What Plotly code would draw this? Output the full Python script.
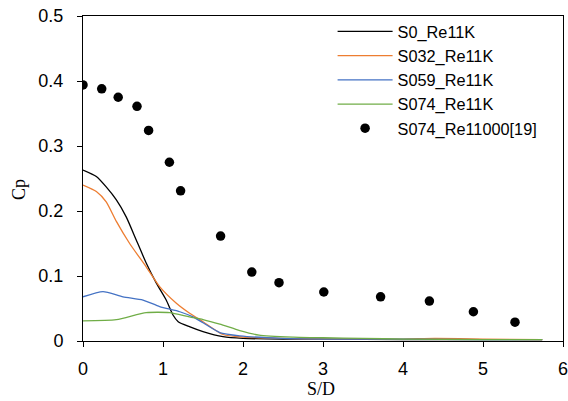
import plotly.graph_objects as go

# Simulation curves
s0_x = [0, 0.167, 0.29, 0.417, 0.54, 0.667, 0.79, 0.917, 1.04, 1.125, 1.19, 1.33, 1.5, 1.75, 2.0, 2.5, 3.0, 4.0, 5.0, 5.74]
s0_y = [0.263, 0.253, 0.237, 0.217, 0.191, 0.155, 0.120, 0.089, 0.063, 0.040, 0.0297, 0.022, 0.0144, 0.0066, 0.004, 0.003, 0.003, 0.002, 0.002, 0.002]

s032_x = [0, 0.167, 0.29, 0.417, 0.583, 0.79, 0.958, 1.167, 1.333, 1.5, 1.75, 2.0, 2.5, 3.0, 4.0, 4.4, 5.0, 5.74]
s032_y = [0.240, 0.230, 0.214, 0.184, 0.150, 0.114, 0.0836, 0.058, 0.0426, 0.0297, 0.010, 0.006, 0.004, 0.003, 0.003, 0.004, 0.003, 0.002]

s059_x = [0, 0.25, 0.5, 0.75, 0.958, 1.21, 1.375, 1.5, 1.71, 1.96, 2.5, 3.0, 4.0, 5.0, 5.74]
s059_y = [0.068, 0.076, 0.068, 0.063, 0.053, 0.045, 0.037, 0.028, 0.013, 0.008, 0.004, 0.003, 0.003, 0.002, 0.002]

s074_x = [0, 0.417, 0.79, 1.083, 1.33, 1.5, 1.71, 1.96, 2.2, 2.63, 3.0, 3.5, 4.0, 5.0, 5.74]
s074_y = [0.031, 0.0328, 0.0436, 0.0436, 0.037, 0.033, 0.026, 0.016, 0.009, 0.006, 0.005, 0.004, 0.003, 0.002, 0.002]

# Reference data [19]
ref_x = [0, 0.234, 0.44, 0.675, 0.82, 1.08, 1.22, 1.72, 2.11, 2.45, 3.01, 3.72, 4.33, 4.88, 5.40]
ref_y = [0.394, 0.388, 0.375, 0.361, 0.324, 0.275, 0.231, 0.1615, 0.106, 0.0897, 0.0754, 0.068, 0.0615, 0.045, 0.029]

names = ["S0_Re11K", "S032_Re11K", "S059_Re11K", "S074_Re11K", "S074_Re11000[19]"]
colors = ["#000000", "#ED7D31", "#4472C4", "#70AD47"]

fig = go.Figure()
for i, (xs, ys) in enumerate([(s0_x, s0_y), (s032_x, s032_y), (s059_x, s059_y), (s074_x, s074_y)]):
    fig.add_trace(go.Scatter(x=xs, y=ys, mode="lines", name=names[i],
                             line=dict(color=colors[i], width=1.3, shape="spline", smoothing=0.6)))
fig.add_trace(go.Scatter(x=ref_x, y=ref_y, mode="markers", name=names[4],
                         marker=dict(color="black", size=9.5)))

tickfont = dict(family="Liberation Sans", size=18, color="black")
serif = dict(family="Liberation Serif", size=18, color="black")
fig.update_layout(
    width=568, height=401,
    margin=dict(l=83, r=5, t=16, b=60),
    paper_bgcolor="white", plot_bgcolor="white",
    showlegend=True,
    legend=dict(x=0.52, y=1.005, xanchor="left", yanchor="top",
                font=dict(family="Liberation Sans", size=16.3, color="black"),
                bgcolor="rgba(0,0,0,0)", itemwidth=55),
    xaxis=dict(range=[0, 6], dtick=1, showgrid=False, zeroline=False, automargin=False,
               showline=True, linecolor="black", linewidth=1, mirror=True,
               ticks="outside", ticklen=5, tickcolor="black", tickfont=tickfont,
               ticklabelstandoff=6, ticklabeloverflow="allow"),
    yaxis=dict(range=[0, 0.5], dtick=0.1, showgrid=False, zeroline=False, automargin=False,
               showline=True, linecolor="black", linewidth=1, mirror=True,
               ticks="outside", ticklen=5, tickcolor="black", tickfont=tickfont,
               ticklabelstandoff=10, ticklabeloverflow="allow"),
    annotations=[
        dict(text="S/D", x=0.495, y=-0.148, xref="paper", yref="paper", showarrow=False,
             xanchor="center", yanchor="middle", font=serif),
        dict(text="Cp", x=-0.133, y=0.465, xref="paper", yref="paper", showarrow=False,
             xanchor="center", yanchor="middle", textangle=-90, font=serif),
    ],
)
fig.write_html("out.html", config={"displayModeBar": False},
               post_script="document.body.style.margin='0';")
